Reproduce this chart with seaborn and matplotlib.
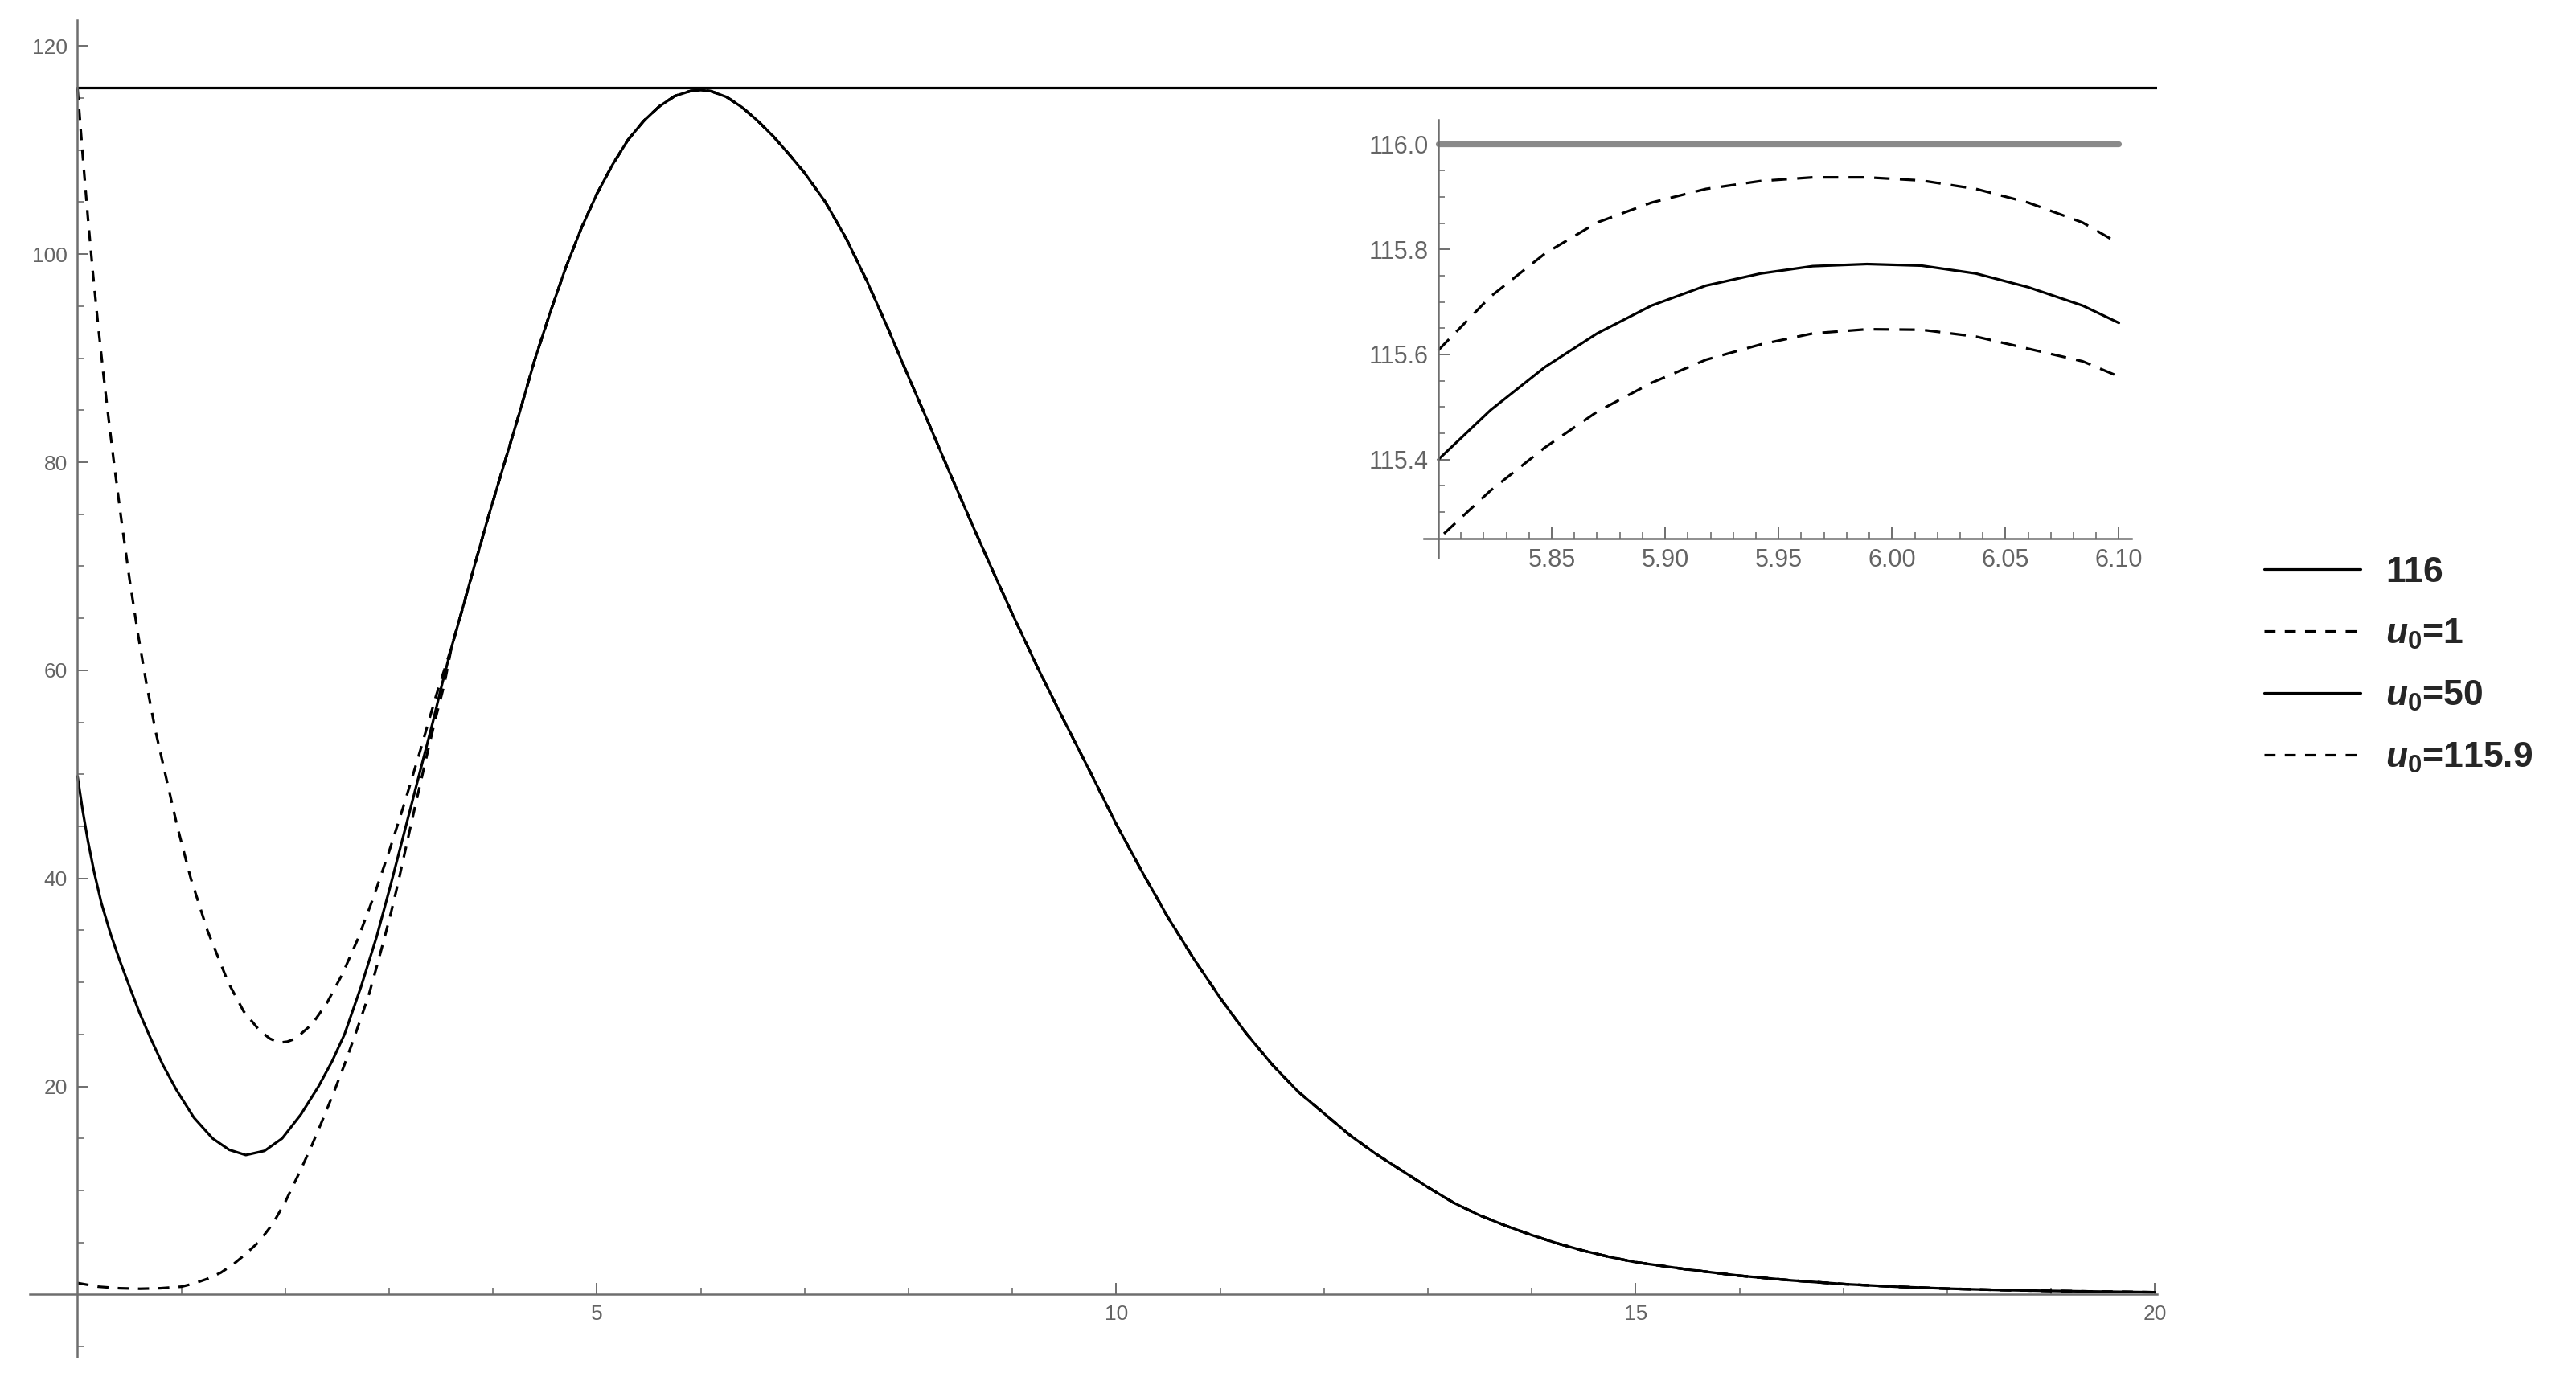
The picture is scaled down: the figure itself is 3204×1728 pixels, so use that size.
import matplotlib
matplotlib.use("Agg")
import matplotlib.pyplot as plt
import seaborn as sns
from matplotlib.lines import Line2D
from matplotlib.ticker import FixedLocator, FixedFormatter

# ---------------- data ----------------
# left branches (x < ~3.6), different for each initial value u0
x_u1159_left = [0.00, 0.05, 0.10, 0.15, 0.20, 0.25, 0.30, 0.35, 0.42, 0.50, 0.58, 0.66, 0.75,
                0.85, 0.96, 1.09, 1.25, 1.45, 1.60, 1.75, 1.85, 1.94, 2.02, 2.10, 2.26, 2.40,
                2.55, 2.70, 2.85, 3.00, 3.15, 3.30, 3.45]
y_u1159_left = [115.9, 109.5, 103.5, 98.0, 93.0, 88.4, 84.1, 80.0, 74.6, 68.8, 63.6, 58.9, 54.2,
                49.8, 45.0, 40.0, 35.0, 30.0, 27.2, 25.4, 24.6, 24.2, 24.3, 24.6, 26.0, 28.0,
                30.8, 34.2, 38.2, 42.6, 47.3, 52.3, 57.5]

x_u50_left = [0.00, 0.05, 0.10, 0.16, 0.23, 0.32, 0.41, 0.50, 0.60, 0.70, 0.82, 0.95, 1.12,
              1.30, 1.46, 1.62, 1.80, 1.97, 2.15, 2.32, 2.45, 2.57, 2.73, 2.88, 3.01, 3.14,
              3.28, 3.42, 3.50]
y_u50_left = [49.8, 46.5, 43.6, 40.6, 37.6, 34.6, 32.0, 29.6, 27.0, 24.7, 22.1, 19.7, 17.0,
              15.0, 13.9, 13.4, 13.8, 15.0, 17.3, 20.0, 22.4, 25.0, 29.6, 34.4, 39.2, 44.2,
              49.6, 55.0, 58.3]

x_u1_left = [0.00, 0.20, 0.40, 0.60, 0.80, 1.00, 1.12, 1.25, 1.38, 1.50, 1.62, 1.75, 1.88,
             2.00, 2.14, 2.25, 2.36, 2.47, 2.57, 2.66, 2.74, 2.81, 2.88, 2.95, 3.02, 3.08,
             3.14, 3.20, 3.27, 3.33, 3.39, 3.45, 3.53]
y_u1_left = [1.1, 0.75, 0.6, 0.55, 0.6, 0.75, 1.05, 1.5, 2.1, 2.9, 3.9, 5.1, 6.8,
             8.9, 11.8, 14.2, 16.8, 19.5, 22.1, 24.6, 26.9, 29.0, 31.5, 34.1, 36.8, 39.3,
             42.0, 44.7, 47.8, 50.4, 53.0, 55.5, 58.6]

# common part: the three solutions coincide at the scale of the main plot
x_shared = [3.60, 3.70, 3.80, 3.95, 4.10, 4.25, 4.40, 4.55, 4.70, 4.85, 5.00, 5.15, 5.30,
            5.45, 5.60, 5.75, 5.90, 6.00, 6.10, 6.25, 6.40, 6.55, 6.70, 6.85, 7.00, 7.20,
            7.40, 7.60, 7.80, 8.00, 8.20, 8.40, 8.60, 8.80, 9.00, 9.25, 9.50, 9.75, 10.00,
            10.25, 10.50, 10.75, 11.00, 11.25, 11.50, 11.75, 12.00, 12.25, 12.50, 12.75,
            13.00, 13.25, 13.50, 13.75, 14.00, 14.25, 14.50, 14.75, 15.00, 15.50, 16.00,
            16.50, 17.00, 17.50, 18.00, 18.50, 19.00, 19.50, 20.00]
y_shared = [62.2, 65.7, 69.3, 74.6, 79.6, 84.6, 89.8, 94.4, 98.7, 102.5, 105.8, 108.6, 111.0,
            112.8, 114.2, 115.2, 115.68, 115.77, 115.66, 115.1, 114.1, 112.8, 111.3, 109.6,
            107.8, 105.0, 101.5, 97.4, 92.9, 88.2, 83.6, 78.9, 74.3, 69.8, 65.4, 60.1, 55.1,
            50.2, 45.2, 40.6, 36.2, 32.2, 28.5, 25.1, 22.1, 19.5, 17.4, 15.3, 13.5, 11.9,
            10.3, 8.8, 7.6, 6.6, 5.7, 4.9, 4.2, 3.6, 3.1, 2.4, 1.8, 1.35, 1.0, 0.75, 0.56,
            0.43, 0.34, 0.27, 0.21]

# reference level
ref_x = [0.0, 20.02]
ref_y = [116.0, 116.0]

# inset (zoom near the maximum)
ix_u1159 = [5.800, 5.823, 5.847, 5.870, 5.894, 5.918, 5.942, 5.965, 5.989, 6.013, 6.037, 6.060, 6.084, 6.100]
iy_u1159 = [115.608, 115.710, 115.792, 115.851, 115.889, 115.915, 115.930, 115.937, 115.937,
            115.931, 115.915, 115.889, 115.851, 115.811]
ix_u50 = [5.800, 5.823, 5.847, 5.870, 5.894, 5.918, 5.942, 5.965, 5.989, 6.013, 6.037, 6.060, 6.084, 6.100]
iy_u50 = [115.400, 115.494, 115.576, 115.640, 115.693, 115.731, 115.754, 115.768, 115.772,
          115.769, 115.754, 115.728, 115.693, 115.660]
ix_u1 = [5.8025, 5.823, 5.847, 5.870, 5.894, 5.918, 5.942, 5.965, 5.989, 6.013, 6.037, 6.060, 6.084, 6.100]
iy_u1 = [115.259, 115.341, 115.423, 115.491, 115.546, 115.590, 115.619, 115.640, 115.648,
         115.647, 115.634, 115.611, 115.587, 115.558]
iref_x = [5.80, 6.10]
iref_y = [116.0, 116.0]

# ticks
x_major = [5, 10, 15, 20]
x_minor = [1, 2, 3, 4, 6, 7, 8, 9, 11, 12, 13, 14, 16, 17, 18, 19]
y_major = [20, 40, 60, 80, 100, 120]
y_minor = [-5, 5, 10, 15, 25, 30, 35, 45, 50, 55, 65, 70, 75, 85, 90, 95, 105, 110, 115]
ix_major = [5.85, 5.90, 5.95, 6.00, 6.05, 6.10]
ix_major_lbl = ["5.85", "5.90", "5.95", "6.00", "6.05", "6.10"]
ix_minor = [5.81, 5.82, 5.83, 5.84, 5.86, 5.87, 5.88, 5.89, 5.91, 5.92, 5.93, 5.94,
            5.96, 5.97, 5.98, 5.99, 6.01, 6.02, 6.03, 6.04, 6.06, 6.07, 6.08, 6.09]
iy_major = [115.4, 115.6, 115.8, 116.0]
iy_major_lbl = ["115.4", "115.6", "115.8", "116.0"]
iy_minor = [115.30, 115.35, 115.45, 115.50, 115.55, 115.65, 115.70, 115.75, 115.85, 115.90, 115.95]

legend_labels = ["116", r"$\mathit{u}_{\mathbf{0}}$=1", r"$\mathit{u}_{\mathbf{0}}$=50",
                 r"$\mathit{u}_{\mathbf{0}}$=115.9"]

# ---------------- styling ----------------
sns.set_style("white")
plt.rcParams['font.family'] = ['Liberation Sans', 'DejaVu Sans']
plt.rcParams['mathtext.fontset'] = 'custom'
plt.rcParams['mathtext.it'] = 'Liberation Sans:italic:bold'
plt.rcParams['mathtext.bf'] = 'Liberation Sans:bold'
plt.rcParams['mathtext.rm'] = 'Liberation Sans:bold'

AXC = '#6e6e6e'
LBC = '#646464'
LW = 1.15
DASH_MAIN = (4.3, 3.6)
DASH_INSET = (6.0, 4.0)

W, H, DPI = 3204, 1728, 200
fig = plt.figure(figsize=(W / DPI, H / DPI), dpi=DPI)
fig.patch.set_facecolor('white')


def mm_axes(ax, x0, y0, lsize):
    for s in ['top', 'right']:
        ax.spines[s].set_visible(False)
    for s in ['left', 'bottom']:
        ax.spines[s].set_color(AXC)
        ax.spines[s].set_linewidth(0.9)
    ax.spines['left'].set_position(('data', x0))
    ax.spines['bottom'].set_position(('data', y0))
    ax.tick_params(which='both', direction='in', bottom=True, left=True, top=False, right=False,
                   color=AXC, labelcolor=LBC, labelsize=lsize)
    ax.tick_params(which='major', length=5.0, width=0.7)
    ax.tick_params(which='minor', length=2.8, width=0.6)
    ax.tick_params(axis='x', which='major', pad=4.5)
    ax.tick_params(axis='y', which='major', pad=4.5)
    ax.patch.set_alpha(0)
    ax.grid(False)


def draw(ax, xs, ys, dash=None, color='black', lw=LW):
    sns.lineplot(x=xs, y=ys, ax=ax, color=color, linewidth=lw,
                 estimator=None, sort=False, legend=False)
    line = ax.lines[-1]
    if dash is not None:
        line.set_dashes(dash)
    return line


# ---------------- main axes ----------------
ax = fig.add_axes([37 / W, 1 - 1688 / H, (2683 - 37) / W, (1688 - 25) / H])
ax.set_xlim(-0.46, 20.02)
ax.set_ylim(-6.0, 122.5)
mm_axes(ax, 0.0, 0.0, 9.5)
ax.xaxis.set_major_locator(FixedLocator(x_major))
ax.xaxis.set_major_formatter(FixedFormatter([str(v) for v in x_major]))
ax.xaxis.set_minor_locator(FixedLocator(x_minor))
ax.yaxis.set_major_locator(FixedLocator(y_major))
ax.yaxis.set_major_formatter(FixedFormatter([str(v) for v in y_major]))
ax.yaxis.set_minor_locator(FixedLocator(y_minor))

draw(ax, ref_x, ref_y)
draw(ax, x_u1_left + x_shared, y_u1_left + y_shared, dash=DASH_MAIN)
draw(ax, x_u50_left + x_shared, y_u50_left + y_shared)
draw(ax, x_u1159_left + x_shared, y_u1159_left + y_shared, dash=DASH_MAIN)
ax.set_xlabel('')
ax.set_ylabel('')

# ---------------- inset ----------------
axi = fig.add_axes([1770.6 / W, 1 - 694 / H, (2651 - 1770.6) / W, (694 - 148.7) / H])
axi.set_xlim(5.7935, 6.1055)
axi.set_ylim(115.213, 116.047)
mm_axes(axi, 5.80, 115.25, 11.0)
axi.xaxis.set_major_locator(FixedLocator(ix_major))
axi.xaxis.set_major_formatter(FixedFormatter(ix_major_lbl))
axi.xaxis.set_minor_locator(FixedLocator(ix_minor))
axi.yaxis.set_major_locator(FixedLocator(iy_major))
axi.yaxis.set_major_formatter(FixedFormatter(iy_major_lbl))
axi.yaxis.set_minor_locator(FixedLocator(iy_minor))

draw(axi, iref_x, iref_y, color='#8a8a8a', lw=2.6)
draw(axi, ix_u1159, iy_u1159, dash=DASH_INSET)
draw(axi, ix_u50, iy_u50)
draw(axi, ix_u1, iy_u1, dash=DASH_INSET)
axi.set_xlabel('')
axi.set_ylabel('')

# ---------------- legend ----------------
handles = [
    Line2D([], [], color='black', lw=LW),
    Line2D([], [], color='black', lw=LW, dashes=DASH_MAIN),
    Line2D([], [], color='black', lw=LW),
    Line2D([], [], color='black', lw=LW, dashes=DASH_MAIN),
]
fig.legend(handles, legend_labels, loc='upper left',
           bbox_to_anchor=(2816 / W, 1 - 692 / H), bbox_transform=fig.transFigure,
           frameon=False, prop={'weight': 'bold', 'size': 16},
           handlelength=2.7, handletextpad=0.7, labelspacing=0.78,
           borderpad=0.0, borderaxespad=0.0)

fig.savefig('out.png', dpi=DPI, facecolor='white')
